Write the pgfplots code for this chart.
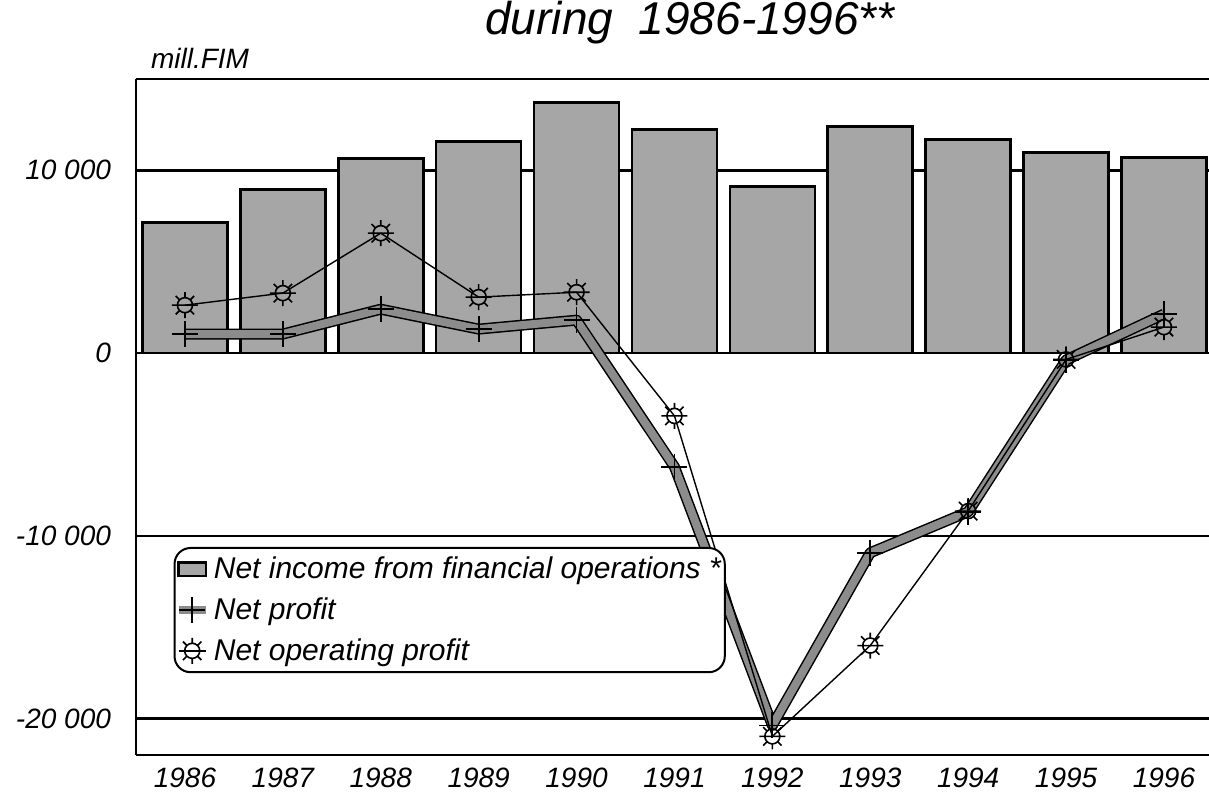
\documentclass[border=0pt]{standalone}
\usepackage{fontspec}
\setmainfont{Liberation Sans}
\usepackage{pgfplots}
\pgfplotsset{compat=1.18}

\pgfdeclareplotmark{sun}{%
 \pgfpathcircle{\pgfpointorigin}{0.58\pgfplotmarksize}%
 \pgfpathmoveto{\pgfpoint{-0.58\pgfplotmarksize}{0pt}}%
 \pgfpathlineto{\pgfpoint{0.58\pgfplotmarksize}{0pt}}%
 \pgfpathmoveto{\pgfpointpolar{0}{0.58\pgfplotmarksize}}\pgfpathlineto{\pgfpointpolar{0}{\pgfplotmarksize}}%
 \pgfpathmoveto{\pgfpointpolar{45}{0.58\pgfplotmarksize}}\pgfpathlineto{\pgfpointpolar{45}{\pgfplotmarksize}}%
 \pgfpathmoveto{\pgfpointpolar{90}{0.58\pgfplotmarksize}}\pgfpathlineto{\pgfpointpolar{90}{\pgfplotmarksize}}%
 \pgfpathmoveto{\pgfpointpolar{135}{0.58\pgfplotmarksize}}\pgfpathlineto{\pgfpointpolar{135}{\pgfplotmarksize}}%
 \pgfpathmoveto{\pgfpointpolar{180}{0.58\pgfplotmarksize}}\pgfpathlineto{\pgfpointpolar{180}{\pgfplotmarksize}}%
 \pgfpathmoveto{\pgfpointpolar{225}{0.58\pgfplotmarksize}}\pgfpathlineto{\pgfpointpolar{225}{\pgfplotmarksize}}%
 \pgfpathmoveto{\pgfpointpolar{270}{0.58\pgfplotmarksize}}\pgfpathlineto{\pgfpointpolar{270}{\pgfplotmarksize}}%
 \pgfpathmoveto{\pgfpointpolar{315}{0.58\pgfplotmarksize}}\pgfpathlineto{\pgfpointpolar{315}{\pgfplotmarksize}}%
 \pgfusepathqstroke
}

\pgfplotsset{
  barlegend/.style={legend image code/.code={\draw[##1] (0cm,-0.12cm) rectangle (0.48cm,0.12cm);}},
  shortline/.style={legend image code/.code={\draw[mark repeat=2,mark phase=2,##1] plot coordinates {(0cm,0cm) (0.24cm,0cm) (0.48cm,0cm)};}},
}

\begin{document}
\begin{tikzpicture}
\path[use as bounding box] (-68pt,-23.5pt) rectangle (536.5pt,377.5pt);
\begin{axis}[
  at={(0pt,0pt)}, anchor=south west,
  scale only axis, width=536.5pt, height=338pt,
  xmin=-0.5, xmax=10.46, ymin=-22000, ymax=15000,
  axis x line=box, axis y line=left,
  axis line style={-, line width=1.2pt},
  scaled y ticks=false,
  xtick={0,1,2,3,4,5,6,7,8,9,10},
  xticklabels={1986,1987,1988,1989,1990,1991,1992,1993,1994,1995,1996},
  ytick={-20000,-10000,0,10000},
  yticklabels={-20 000,-10 000,0,10 000},
  major tick length=0pt,
  ymajorgrids, grid style={black, line width=1.2pt},
  tick label style={font=\fontsize{14}{16}\selectfont\itshape},
  yticklabel style={xshift=-9pt},
  xticklabel style={yshift=-3pt},
  legend style={at={(0.035,0.3077)}, anchor=north west, draw=black,
    line width=1pt, rounded corners=8pt, fill=white,
    font=\fontsize{15}{17}\selectfont\itshape, row sep=4pt,
    inner xsep=0pt, inner ysep=2.5pt},
  legend image post style={sharp corners},
  legend cell align=left,
]
\addplot[ybar, bar width=42.5pt, fill=black!35, draw=black, line width=1.3pt, barlegend]
  coordinates {(0,7150) (1,8960) (2,10660) (3,11580) (4,13720) (5,12240) (6,9130) (7,12400) (8,11690) (9,10980) (10,10710)};
\addlegendentry{Net income from financial operations *}
\addplot[black, line width=5.5pt, line join=round, forget plot]
  coordinates {(0,1040) (1,1040) (2,2400) (3,1310) (4,1800) (5,-6230) (6,-20380) (7,-10930) (8,-8690) (9,-380) (10,2130)};
\addplot[black!45, line width=4pt, line join=round, mark=+, mark size=6.5pt, mark options={black, line width=0.9pt}, shortline]
  coordinates {(0,1040) (1,1040) (2,2400) (3,1310) (4,1800) (5,-6230) (6,-20380) (7,-10930) (8,-8690) (9,-380) (10,2130)};
\addlegendentry{Net profit}
\addplot[black, line width=0.7pt, mark=sun, mark size=6.5pt, mark options={line width=0.8pt}, shortline]
  coordinates {(0,2620) (1,3280) (2,6560) (3,3060) (4,3330) (5,-3440) (6,-20980) (7,-16010) (8,-8650) (9,-350) (10,1420)};
\addlegendentry{Net operating profit}
\end{axis}
\node[font=\fontsize{23}{27}\selectfont\itshape] at (277pt,366pt) {during\ \ 1986-1996**};
\node[anchor=west, font=\fontsize{14}{16}\selectfont\itshape] at (4pt,348.5pt) {mill.FIM};
\end{tikzpicture}
\end{document}
